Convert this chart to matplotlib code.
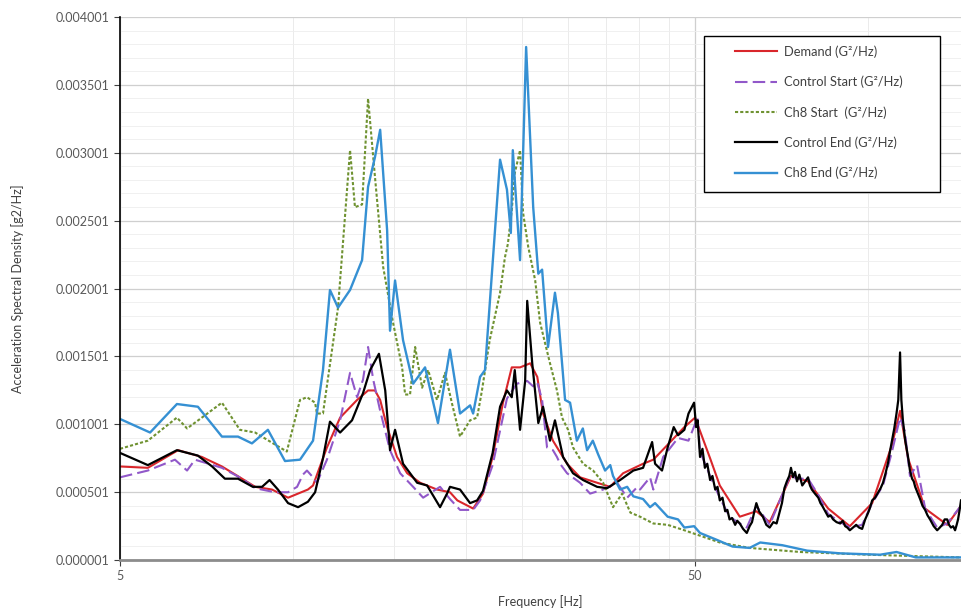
import matplotlib
matplotlib.use("Agg")
import matplotlib.pyplot as plt
from matplotlib.patches import Rectangle
from matplotlib.ticker import FixedLocator, NullFormatter

plt.rcParams['font.family'] = ['Lato', 'DejaVu Sans']

# Demand
dem_f = [5.0, 5.59, 6.31, 6.94, 7.52, 8.15, 8.59, 9.19, 9.8, 10.61, 10.83, 11.45, 12.07, 12.92,
         13.5, 13.88, 14.17, 14.57, 15.16, 15.79, 16.63, 17.79, 18.74, 19.3, 20.56, 21.39, 22.23,
         23.17, 24.0, 24.81, 25.84, 26.58, 27.2, 28.3, 29.95, 31.55, 33.78, 35.57, 37.48, 40.6,
         42.3, 44.8, 47.9, 50.0, 53.1, 55.2, 59.8, 63.9, 67.4, 73.4, 78.6, 85.2, 92.9, 101.6,
         110.0, 113.6, 117.3, 125.6, 137.2, 145.0]
dem_v = [0.00069, 0.00068, 0.00081, 0.00076, 0.00069, 0.00060, 0.00054, 0.00052, 0.00046, 0.00052,
         0.00055, 0.00083, 0.00105, 0.00118, 0.00125, 0.00125, 0.00118, 0.00098, 0.00076, 0.00064,
         0.00057, 0.00052, 0.00050, 0.00044, 0.00038, 0.00049, 0.00076, 0.00116, 0.00142, 0.00142,
         0.00145, 0.00135, 0.00108, 0.00088, 0.00071, 0.00061, 0.00057, 0.00054, 0.00064, 0.00071,
         0.00074, 0.00085, 0.00098, 0.00105, 0.00075, 0.00055, 0.00032, 0.00036, 0.00028, 0.00062,
         0.00058, 0.00038, 0.00025, 0.00042, 0.00085, 0.00110, 0.00075, 0.00038, 0.00026, 0.00040]

# Control Start
cs_f = [5.0, 5.59, 6.23, 6.54, 6.75, 7.52, 8.15, 8.59, 9.3, 9.8, 10.16, 10.4, 10.57, 10.83, 11.0,
        11.45, 12.07, 12.56, 12.92, 13.23, 13.5, 13.78, 14.17, 14.74, 15.35, 16.17, 16.83, 18.01,
        18.74, 19.51, 20.56, 21.14, 22.23, 23.54, 24.5, 25.53, 26.15, 26.58, 27.1, 27.64, 28.3,
        28.76, 29.12, 29.95, 31.55, 32.84, 34.6, 36.59, 38.1, 39.7, 40.11, 41.75, 42.3, 44.0, 46.7,
        48.7, 50.5, 51.0, 53.1, 55.2, 57.4, 59.8, 61.5, 63.9, 67.4, 71.5, 73.4, 74.9, 78.6, 81.9,
        85.2, 89.4, 92.9, 97.6, 101.6, 106.1, 110.0, 113.6, 115.8, 118.2, 120.7, 121.6, 125.6,
        131.8, 137.2, 145.0]
cs_v = [0.00061, 0.00066, 0.00074, 0.00066, 0.00074, 0.00068, 0.00060, 0.00053, 0.00050, 0.00050,
        0.00054, 0.00063, 0.00066, 0.00061, 0.00057, 0.00074, 0.00103, 0.00138, 0.00120, 0.00133,
        0.00157, 0.00133, 0.00110, 0.00081, 0.00064, 0.00054, 0.00046, 0.00054, 0.00045, 0.00037,
        0.00037, 0.00044, 0.00070, 0.00119, 0.00130, 0.00132, 0.00128, 0.00131, 0.00118, 0.00083,
        0.00081, 0.00076, 0.00071, 0.00064, 0.00057, 0.00049, 0.00052, 0.00057, 0.00046, 0.00054,
        0.00052, 0.00061, 0.00052, 0.00076, 0.00090, 0.00088, 0.00105, 0.00080, 0.00062, 0.00046,
        0.00032, 0.00027, 0.00024, 0.00040, 0.00026, 0.00052, 0.00064, 0.00060, 0.00060, 0.00048,
        0.00034, 0.00028, 0.00024, 0.00026, 0.00042, 0.00055, 0.00080, 0.00105, 0.00095, 0.00062,
        0.00068, 0.00070, 0.00038, 0.00024, 0.00027, 0.00040]

# Ch8 Start
c8s_f = [5.0, 5.59, 6.28, 6.54, 6.94, 7.52, 8.08, 8.59, 9.23, 9.75, 10.28, 10.57, 10.92, 11.0,
         11.27, 11.97, 12.56, 12.81, 13.18, 13.5, 13.88, 14.34, 14.92, 15.47, 15.66, 15.97, 16.3,
         16.76, 17.17, 17.79, 18.37, 18.9, 19.51, 20.31, 20.89, 21.3, 21.97, 22.9, 23.35, 23.63,
         24.0, 24.29, 24.81, 25.11, 25.63, 26.36, 26.88, 27.97, 28.76, 29.35, 30.07, 30.67, 31.93,
         33.24, 34.6, 36.0, 37.33, 38.59, 40.11, 42.3, 44.8, 47.9, 51.0, 55.2, 62.2, 76.2, 99.7,
         145.0]
c8s_v = [0.00082, 0.00088, 0.00105, 0.00097, 0.00105, 0.00116, 0.00096, 0.00094, 0.00086, 0.00080,
         0.00118, 0.00120, 0.00116, 0.00108, 0.00108, 0.00186, 0.00302, 0.00260, 0.00262, 0.00340,
         0.00282, 0.00216, 0.00175, 0.00142, 0.00122, 0.00122, 0.00157, 0.00127, 0.00140, 0.00118,
         0.00138, 0.00115, 0.00091, 0.00103, 0.00105, 0.00125, 0.00162, 0.00197, 0.00223, 0.00233,
         0.00258, 0.00285, 0.00302, 0.00256, 0.00231, 0.00206, 0.00175, 0.00145, 0.00125, 0.00105,
         0.00096, 0.00083, 0.00071, 0.00066, 0.00057, 0.00039, 0.00049, 0.00035, 0.00032, 0.00027,
         0.00026, 0.00022, 0.00018, 0.00013, 0.00009, 0.00006, 0.00004, 0.00002]

# Control End
ce_f = [5.0, 5.59, 6.28, 6.83, 7.23, 7.61, 8.02, 8.51, 8.83, 9.1, 9.41, 9.8, 10.2, 10.61, 10.92,
        11.27, 11.59, 12.07, 12.66, 13.23, 13.61, 14.1, 14.46, 14.74, 15.04, 15.53, 16.43, 17.1,
        18.01, 18.52, 18.74, 19.51, 20.31, 20.89, 21.39, 22.23, 22.9, 23.54, 24.0, 24.29, 24.81,
        25.32, 25.53, 26.05, 26.69, 27.2, 27.97, 28.53, 29.47, 30.67, 31.93, 33.78, 35.15, 37.03,
        39.05, 40.6, 42.1, 42.6, 43.8, 44.8, 45.9, 46.7, 47.9, 48.7, 49.8,
        50.2, 50.5, 51.0, 51.5, 52.0, 52.5, 53.1, 53.6, 54.2, 54.7, 55.2, 55.8, 56.4, 56.9, 57.4,
        58.0, 58.7, 59.2, 59.8, 60.6, 61.5, 62.2, 62.8, 63.4, 63.9, 64.6, 65.6, 66.5, 67.4, 68.4,
        69.3, 70.1, 70.8, 71.5, 72.2, 72.9, 73.4, 74.0, 74.6, 75.2, 75.9, 76.8, 77.7, 78.6, 79.2,
        79.8, 80.8, 81.9, 82.6, 83.2, 84.2, 85.2, 86.0, 86.9, 88.1, 89.4, 90.3, 91.2, 92.0, 92.9,
        94.1, 95.3, 96.4, 97.6, 98.8, 100.0, 100.8, 101.6, 102.8, 104.1, 105.1, 106.1, 107.2,
        108.3, 109.1, 110.0, 111.0, 112.0, 112.8, 113.6, 114.2, 114.9, 116.0, 117.3, 118.2, 119.2,
        120.0, 120.7, 122.0, 123.1, 124.3, 125.6, 126.8, 128.1, 130.0, 131.8, 133.2, 134.5, 135.8,
        137.2, 138.2, 139.3, 140.5, 141.6, 142.5, 143.3, 144.2, 145.0]
ce_v = [0.00079, 0.00070, 0.00081, 0.00077, 0.00069, 0.00060, 0.00060, 0.00054, 0.00054, 0.00059,
        0.00052, 0.00042, 0.00039, 0.00043, 0.00050, 0.00075, 0.00102, 0.00094, 0.00103, 0.00123,
        0.00140, 0.00152, 0.00125, 0.00081, 0.00096, 0.00071, 0.00057, 0.00055, 0.00039, 0.00049,
        0.00054, 0.00052, 0.00042, 0.00044, 0.00051, 0.00079, 0.00113, 0.00125, 0.00120, 0.00140,
        0.00096, 0.00132, 0.00191, 0.00145, 0.00101, 0.00113, 0.00088, 0.00103, 0.00076, 0.00064,
        0.00059, 0.00054, 0.00053, 0.00059, 0.00066, 0.00068, 0.00087, 0.00071, 0.00066, 0.00083,
        0.00098, 0.00092, 0.00096, 0.00108, 0.00116,
        0.00098, 0.00103, 0.00076, 0.00082, 0.00068, 0.00071, 0.00059, 0.00062, 0.00052, 0.00054,
        0.00044, 0.00046, 0.00036, 0.00037, 0.00030, 0.00031, 0.00026, 0.00029, 0.00027, 0.00023,
        0.00020, 0.00025, 0.00028, 0.00036, 0.00042, 0.00036, 0.00032, 0.00026, 0.00024, 0.00028,
        0.00027, 0.00035, 0.00042, 0.00053, 0.00058, 0.00062, 0.00068, 0.00061, 0.00065, 0.00058,
        0.00063, 0.00055, 0.00058, 0.00061, 0.00055, 0.00052, 0.00049, 0.00046, 0.00042, 0.00040,
        0.00036, 0.00032, 0.00033, 0.00030, 0.00028, 0.00027, 0.00029, 0.00025, 0.00024, 0.00022,
        0.00024, 0.00026, 0.00024, 0.00023, 0.00030, 0.00035, 0.00039, 0.00044, 0.00046, 0.00050,
        0.00053, 0.00057, 0.00064, 0.00072, 0.00080, 0.00088, 0.00097, 0.00108, 0.00118, 0.00153,
        0.00118, 0.00103, 0.00088, 0.00076, 0.00066, 0.00060, 0.00058, 0.00054, 0.00049, 0.00045,
        0.00040, 0.00037, 0.00033, 0.00030, 0.00025, 0.00022, 0.00024, 0.00026, 0.00030, 0.00030,
        0.00026, 0.00024, 0.00025, 0.00022, 0.00026, 0.00030, 0.00037, 0.00044]

# Ch8 End
c8e_f = [5.0, 5.64, 6.28, 6.83, 7.52, 8.02, 8.48, 9.04, 9.68, 10.28, 10.83, 11.27, 11.59, 11.97,
         12.56, 13.18, 13.5, 13.88, 14.17, 14.57, 14.74, 15.04, 15.53, 16.17, 16.96, 17.86, 18.74,
         19.51, 20.31, 20.56, 21.14, 21.56, 22.9, 23.54, 23.91, 24.1, 24.81, 25.42, 26.15, 26.69,
         27.1, 27.75, 28.53, 28.87, 29.71, 30.31, 31.15, 31.9, 32.45, 33.2, 33.91, 34.87, 35.6,
         36.0, 37.03, 38.1, 39.05, 40.6, 41.75, 42.6, 44.8, 46.7, 47.9, 49.8, 51.0, 54.5, 58.1,
         62.2, 64.9, 70.9, 78.3, 89.4, 104.9, 112.0, 121.0, 145.0]
c8e_v = [0.00104, 0.00094, 0.00115, 0.00113, 0.00091, 0.00091, 0.00086, 0.00096, 0.00073, 0.00074,
         0.00088, 0.00140, 0.00199, 0.00186, 0.00199, 0.00221, 0.00275, 0.00297, 0.00317, 0.00243,
         0.00169, 0.00206, 0.00162, 0.00130, 0.00142, 0.00101, 0.00155, 0.00108, 0.00114, 0.00108,
         0.00135, 0.00140, 0.00295, 0.00273, 0.00241, 0.00302, 0.00221, 0.00378, 0.00260, 0.00211,
         0.00214, 0.00157, 0.00197, 0.00182, 0.00118, 0.00116, 0.00088, 0.00097, 0.00081, 0.00088,
         0.00078, 0.00066, 0.00070, 0.00062, 0.00052, 0.00054, 0.00047, 0.00045, 0.00039, 0.00042,
         0.00032, 0.00030, 0.00024, 0.00025, 0.00020, 0.00015, 0.00010, 0.00009, 0.00013, 0.00011,
         0.00007, 0.00005, 0.00004, 0.00006, 0.00002, 0.00002]

y_ticks = [0.000001, 0.000501, 0.001001, 0.001501, 0.002001, 0.002501, 0.003001, 0.003501, 0.004001]
x_major = [5, 50]
x_minor = [10, 15, 20, 25, 30, 35, 40, 45, 100]

fig = plt.figure(figsize=(9.61, 6.10), dpi=100)
ax = fig.add_axes([120 / 961, 50 / 610, 841 / 961, 543 / 610])

ax.plot(dem_f, dem_v, color='#d9262b', lw=1.5, label='Demand (G\u00b2/Hz)')
ax.plot(cs_f, cs_v, color='#9158c9', lw=1.5, dashes=(6, 2.5), label='Control Start (G\u00b2/Hz)')
ax.plot(c8s_f, c8s_v, color='#6f9231', lw=1.5, dashes=(1.5, 1), label='Ch8 Start  (G\u00b2/Hz)')
ax.plot(ce_f, ce_v, color='black', lw=1.6, label='Control End (G\u00b2/Hz)')
ax.plot(c8e_f, c8e_v, color='#3590d3', lw=1.7, label='Ch8 End (G\u00b2/Hz)')

ax.set_xscale('log')
ax.set_xlim(5, 145)
ax.set_ylim(0.000001, 0.004001)

ax.xaxis.set_major_locator(FixedLocator(x_major))
ax.xaxis.set_minor_locator(FixedLocator(x_minor))
ax.xaxis.set_minor_formatter(NullFormatter())
ax.set_xticklabels([str(v) for v in x_major])
ax.set_yticks(y_ticks)
ax.set_yticklabels(['%.6f' % v for v in y_ticks])
ax.yaxis.set_minor_locator(FixedLocator([0.000001 + 0.0001 * i for i in range(41)]))

ax.grid(which='major', axis='y', color='#cfcfcf', lw=0.9)
ax.grid(which='minor', axis='y', color='#eeeeee', lw=0.6)
ax.grid(which='major', axis='x', color='#cfcfcf', lw=0.9)
ax.grid(which='minor', axis='x', color='#e8e8e8', lw=0.6)
ax.set_axisbelow(True)

ax.tick_params(axis='both', which='major', labelsize=9, labelcolor='#595959', length=4,
               color='#404040', direction='out')
ax.tick_params(axis='both', which='minor', length=0)
ax.tick_params(axis='x', pad=3)

for s in ['top', 'right']:
    ax.spines[s].set_visible(False)
ax.spines['left'].set_color('black')
ax.spines['left'].set_linewidth(1.2)
ax.spines['bottom'].set_color('#8c8c8c')
ax.spines['bottom'].set_linewidth(2)

ax.set_ylabel('Acceleration Spectral Density [g2/Hz]', fontsize=9, color='#404040')
ax.yaxis.set_label_coords(-0.114, 0.5)
ax.set_xlabel('Frequency [Hz]', fontsize=9, color='#404040')
ax.xaxis.set_label_coords(0.5, -0.064)

# legend box drawn separately so the inner padding can be wider than tall
box = Rectangle((0.694, 0.678), 0.281, 0.287, transform=ax.transAxes, facecolor='white',
                edgecolor='black', lw=1.0, zorder=4)
ax.add_patch(box)
leg = ax.legend(loc='upper left', bbox_to_anchor=(0.731, 0.948), fontsize=9.3,
                frameon=False, handlelength=3.3, handletextpad=0.5, labelspacing=1.38,
                borderpad=0, borderaxespad=0)
leg.set_zorder(5)
for t in leg.get_texts():
    t.set_color('#404040')

fig.savefig('out.png', dpi=100)
